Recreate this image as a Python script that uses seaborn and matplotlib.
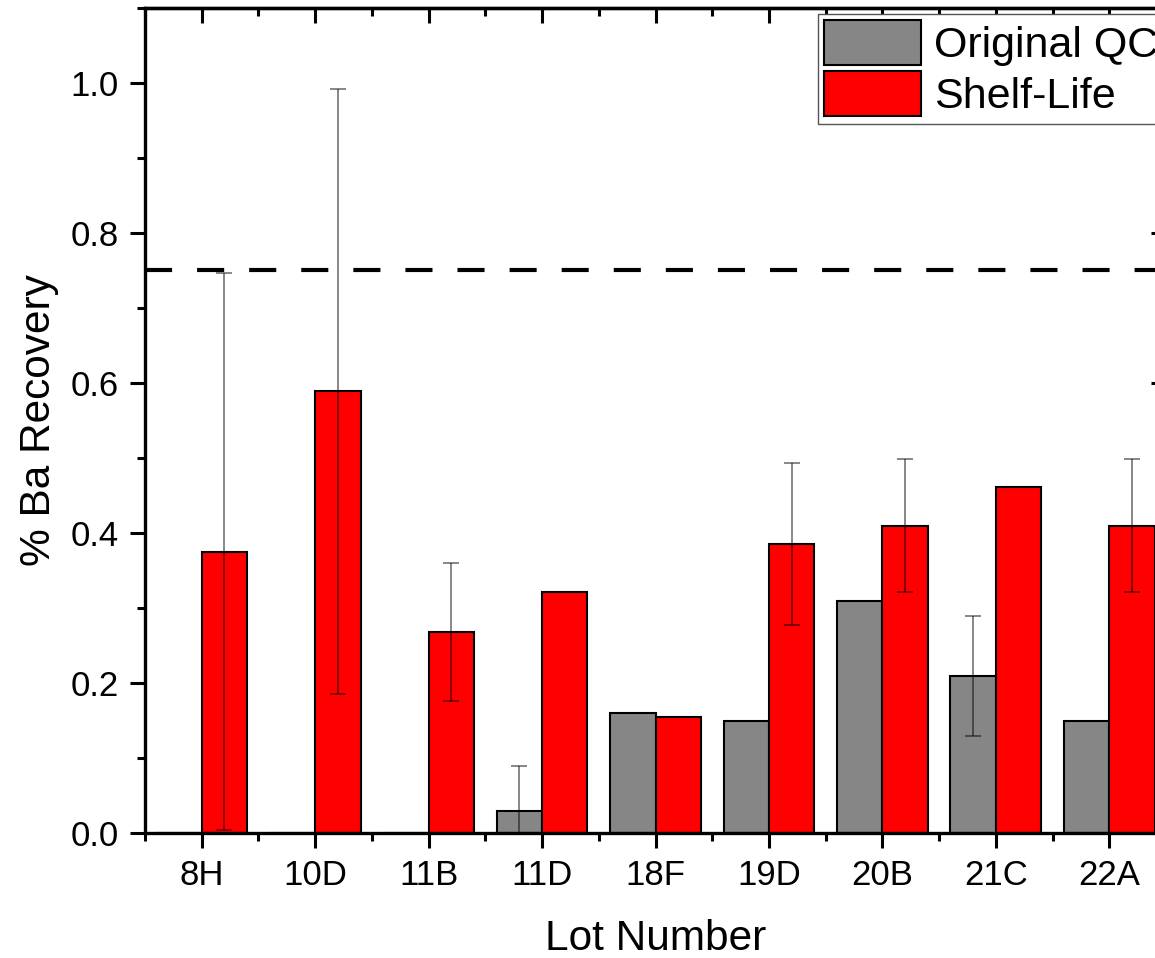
import matplotlib
matplotlib.use('Agg')
import matplotlib.pyplot as plt
from matplotlib.ticker import MultipleLocator, FixedLocator
import numpy as np
import pandas as pd
import seaborn as sns

# values
lots = ['8H', '10D', '11B', '11D', '18F', '19D', '20B', '21C', '22A']
groups = ['Original QC', 'Shelf-Life']
qc_vals = [0, 0, 0, 0.03, 0.16, 0.15, 0.31, 0.21, 0.15]
qc_err = [0, 0, 0, 0.06, 0, 0, 0, 0.08, 0]
shelf_vals = [0.375, 0.589, 0.268, 0.321, 0.155, 0.385, 0.41, 0.461, 0.41]
shelf_err = [0.371, 0.403, 0.092, 0, 0, 0.108, 0.089, 0, 0.089]
limit_line = 0.75

df = pd.DataFrame({
    'lot': lots * 2,
    'group': [groups[0]] * len(lots) + [groups[1]] * len(lots),
    'recovery': qc_vals + shelf_vals,
})

sns.set_style('ticks')
plt.rcParams['font.family'] = ['Liberation Sans', 'DejaVu Sans']
for k in ['text.color', 'axes.labelcolor', 'xtick.color', 'ytick.color', 'axes.edgecolor']:
    plt.rcParams[k] = 'black'

W, H = 1155, 958
fig = plt.figure(figsize=(W / 100, H / 100), dpi=100)
# the original plot is cropped on the right, so the axes run past the figure edge
ax = fig.add_axes([145 / W, 125 / H, 1021 / W, 825 / H])

sns.barplot(data=df, x='lot', y='recovery', hue='group', order=lots, hue_order=groups,
            palette={'Original QC': '#868686', 'Shelf-Life': '#ff0000'},
            saturation=1, edgecolor='black', linewidth=1.5, errorbar=None,
            width=0.8, ax=ax)

# error bars at the bar centres
for cont, errs in zip(ax.containers, [qc_err, shelf_err]):
    for bar, e in zip(cont, errs):
        if e > 0:
            cx = bar.get_x() + bar.get_width() / 2
            ax.errorbar(cx, bar.get_height(), yerr=e, fmt='none', ecolor='black',
                        alpha=0.55, elinewidth=1.2, capsize=5.8, capthick=1.2, zorder=5)

ax.axhline(limit_line, color='black', lw=3, dashes=(6.5, 6), zorder=6)

ax.set_xlim(-0.5, len(lots) - 0.5)
ax.set_ylim(0, 1.1)
ax.yaxis.set_major_locator(MultipleLocator(0.2))
ax.yaxis.set_minor_locator(MultipleLocator(0.1))
ax.xaxis.set_minor_locator(FixedLocator(np.arange(-0.5, len(lots), 1.0)))
ax.yaxis.set_major_formatter(matplotlib.ticker.FormatStrFormatter('%.1f'))

for s in ax.spines.values():
    s.set_linewidth(2.4)
    s.set_visible(True)

ax.tick_params(which='major', direction='out', length=11, width=2.2, labelsize=25, pad=8)
ax.tick_params(which='minor', direction='out', length=5.5, width=2.2)

# mirrored ticks on top and right pointing inward
top = ax.secondary_xaxis('top')
top.set_xticks(range(len(lots)))
top.xaxis.set_minor_locator(FixedLocator(np.arange(-0.5, len(lots), 1.0)))
top.tick_params(which='major', direction='in', length=11, width=2.2, labeltop=False)
top.tick_params(which='minor', direction='in', length=5.5, width=2.2)
top.spines['top'].set_linewidth(2.4)

right = ax.secondary_yaxis('right')
right.yaxis.set_major_locator(MultipleLocator(0.2))
right.yaxis.set_minor_locator(MultipleLocator(0.1))
right.tick_params(which='major', direction='in', length=11, width=2.2, labelright=False)
right.tick_params(which='minor', direction='in', length=5.5, width=2.2)
right.spines['right'].set_linewidth(2.4)

ax.set_xlabel('Lot Number', fontsize=30.5, labelpad=19)
ax.set_ylabel('% Ba Recovery', fontsize=30.5, labelpad=8)

sns.move_legend(ax, 'upper left', bbox_to_anchor=(818 / W, 1 - 14 / H),
                bbox_transform=fig.transFigure, title=None, fontsize=31,
                frameon=True, fancybox=False, edgecolor='#555555', framealpha=1,
                borderpad=0.15, handlelength=2.25, handleheight=1.22,
                handletextpad=0.3, labelspacing=0.12, borderaxespad=0)
ax.get_legend().get_frame().set_linewidth(1)

fig.savefig('out.png', dpi=100)
